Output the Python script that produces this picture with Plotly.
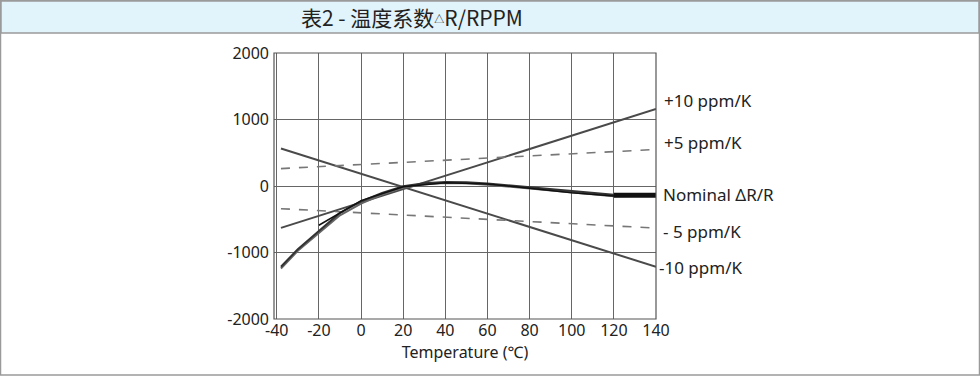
import plotly.graph_objects as go

# ---- data ----
ppm_x = [-38, 140]
plus10 = [-630, 1160]
plus5 = [262, 549]
minus5 = [-341, -633]
minus10 = [564, -1215]

nomA_x = [-38, -30, -20, -10, 0, 10, 20, 30, 40, 50, 60, 80, 100, 120, 140]
nomA_y = [-1240, -975, -705, -440, -265, -130, -25, 25, 45, 40, 20, -35, -95, -155, -145]
nomB_y = [-1215, -950, -675, -405, -230, -105, -5, 42, 62, 57, 37, -22, -78, -130, -122]
nomC_x = [-20, 0, 20, 40, 60, 80, 100, 120, 140]
nomC_y = [-590, -220, -10, 50, 30, -40, -100, -150, -150]
nomD_x = [120, 140]
nomD_y = [-140, -140]

x_ticks = [-40, -20, 0, 20, 40, 60, 80, 100, 120, 140]
x_tick_text = ["-40", "-20", "0", "20", "40", "60", "80", "100", "120", "140"]
y_ticks = [-2000, -1000, 0, 1000, 2000]
y_tick_text = ["-2000", "-1000", "0", "1000", "2000"]

right_labels = ["+10 ppm/K", "+5 ppm/K", "Nominal \u0394R/R", "- 5 ppm/K", "-10 ppm/K"]
title_text = "表2 - 温度系数<span style='font-size:10px;baseline-shift:3px'>\u25b3</span>R/RPPM"
x_title = "Temperature (\u2103)"

W, H = 980, 376
L, R, T, B = 274, 656, 53, 319

def px(x):
    return (x - L) / (R - L)

def py(y):
    return (B - y) / (B - T)

FONT = "Noto Sans, DejaVu Sans, sans-serif"

fig = go.Figure()

def line(xs, ys, color, width, dash="solid"):
    fig.add_trace(go.Scatter(x=xs, y=ys, mode="lines",
                             line=dict(color=color, width=width, dash=dash),
                             showlegend=False, hoverinfo="skip"))

line(ppm_x, plus10, "#4a4a4a", 2)
line(ppm_x, minus10, "#4a4a4a", 2)
line(ppm_x, plus5, "#777777", 1.6, "dash")
line(ppm_x, minus5, "#777777", 1.6, "dash")
line(nomA_x, nomA_y, "#666666", 2)
line(nomA_x, nomB_y, "#333333", 2)
line(nomC_x, nomC_y, "#111111", 1.5)
line(nomD_x, nomD_y, "#111111", 5)

shapes = []
# outer frame
shapes.append(dict(type="rect", xref="paper", yref="paper",
                   x0=px(0.5), x1=px(979.5), y0=py(375), y1=py(0.5),
                   line=dict(color="#9a9a9a", width=1.5), fillcolor="rgba(0,0,0,0)", layer="below"))
# title bar
shapes.append(dict(type="rect", xref="paper", yref="paper",
                   x0=px(1), x1=px(979), y0=py(33), y1=py(1),
                   line=dict(color="#9a9a9a", width=1.5), fillcolor="#e1f3fb", layer="below"))
# plot box
shapes.append(dict(type="rect", xref="paper", yref="paper",
                   x0=0, x1=1, y0=0, y1=1,
                   line=dict(color="#555555", width=1.2), fillcolor="rgba(0,0,0,0)"))

annotations = [dict(text=title_text, xref="paper", yref="paper", x=px(412), y=py(17),
                    showarrow=False, xanchor="center", yanchor="middle",
                    font=dict(family="Noto Sans CJK SC, Noto Sans", size=21, color="#222222"))]

label_pos = [(662, 100), (662, 142), (661, 194), (661, 232), (657, 267)]
for txt, (lx, ly) in zip(right_labels, label_pos):
    annotations.append(dict(text=txt, xref="paper", yref="paper", x=px(lx), y=py(ly),
                            showarrow=False, xanchor="left", yanchor="middle",
                            font=dict(family=FONT, size=17, color="#222222")))

fig.update_layout(
    width=W, height=H,
    margin=dict(l=L, r=W - R, t=T, b=H - B, pad=0),
    paper_bgcolor="white", plot_bgcolor="white",
    font=dict(family=FONT, size=16, color="#222222"),
    shapes=shapes, annotations=annotations,
    xaxis=dict(range=[-41.3, 140], tickvals=x_ticks, ticktext=x_tick_text, showgrid=True,
               gridcolor="#666666", gridwidth=1, zeroline=False, showline=False,
               ticks="", fixedrange=True,
               title=dict(text=x_title, standoff=0, font=dict(size=16, color="#222222"))),
    yaxis=dict(range=[-2000, 2000], tickvals=y_ticks, ticktext=y_tick_text, showgrid=True,
               gridcolor="#666666", gridwidth=1, zeroline=False, showline=False,
               ticks="", fixedrange=True, ticklabelstandoff=4),
)

fig.write_html("out.html", config={"displayModeBar": False},
               post_script="document.body.style.margin='0';document.body.style.overflow='hidden';")
